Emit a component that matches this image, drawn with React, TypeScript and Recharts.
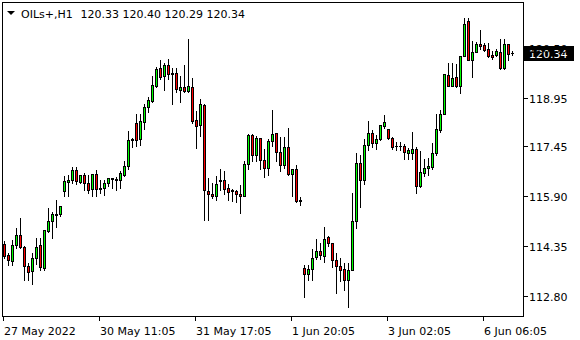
import React from 'react';
import { ComposedChart, Bar, XAxis, YAxis, ReferenceLine } from 'recharts';

const opens = [114.41,114.07,113.89,114.39,114.71,114.34,113.75,113.58,113.99,114.38,113.67,114.82,115.13,115.32,115.35,116.06,116.34,116.40,116.72,116.34,116.57,116.32,116.12,116.60,116.17,116.15,116.31,116.43,116.41,116.41,116.55,116.83,117.65,118.18,117.67,118.20,118.67,118.85,119.32,119.86,119.62,119.95,119.72,119.72,119.19,119.29,119.15,119.29,118.25,118.10,118.74,116.07,115.98,115.91,116.37,116.39,116.16,116.09,116.06,115.98,115.92,116.91,117.79,117.17,117.71,117.03,116.78,117.62,117.87,117.28,116.86,117.43,116.59,116.75,115.78,113.69,113.50,113.66,114.03,114.22,114.05,114.63,114.46,113.92,113.74,113.66,113.30,113.61,115.14,116.92,116.40,117.49,117.87,117.54,117.66,118.07,117.97,117.71,117.46,117.46,117.47,117.24,117.25,117.38,116.21,116.63,116.78,116.81,117.25,117.96,118.46,119.66,119.33,119.58,119.31,120.24,121.34,120.11,120.37,120.63,120.57,120.45,120.29,120.28,120.38,119.87,120.63,120.33];
const highs = [114.51,114.15,114.56,114.91,115.24,114.35,113.84,114.15,114.62,114.62,114.86,115.55,115.42,115.80,115.61,116.54,116.57,116.81,116.80,116.57,116.61,116.57,116.60,116.70,116.40,116.42,116.46,116.47,116.49,116.67,116.98,117.91,117.70,118.46,118.46,118.77,118.99,119.62,119.90,120.13,120.03,120.14,119.86,119.88,119.64,119.95,120.76,119.57,118.53,118.90,118.76,116.48,116.30,116.54,116.74,116.69,116.29,116.13,116.08,116.25,116.98,117.82,117.83,117.76,117.71,117.37,117.66,118.56,117.87,117.75,117.74,118.02,116.75,116.88,115.88,113.77,113.77,114.28,114.58,114.46,114.94,114.67,114.46,114.15,114.00,113.84,113.82,116.00,117.23,117.19,117.66,118.22,117.95,117.80,118.11,118.43,117.98,117.74,117.59,117.58,117.52,117.40,117.88,117.42,117.30,117.06,117.10,117.54,118.46,118.56,119.70,120.03,120.03,120.00,120.25,121.43,121.43,120.70,120.68,121.06,120.65,120.65,120.39,120.47,120.76,120.76,120.63,120.40];
const lows = [114.00,113.77,113.77,114.29,114.31,113.32,113.32,113.19,113.81,113.61,113.62,114.79,114.61,114.96,115.28,115.90,115.90,116.31,116.27,116.30,116.09,116.01,115.90,115.90,115.99,115.93,116.21,116.16,116.09,116.17,116.53,116.73,117.42,117.45,117.48,117.97,118.52,118.81,119.28,119.54,119.19,119.54,118.76,119.14,118.81,119.12,119.13,118.18,117.40,117.76,115.17,115.17,115.85,115.80,116.08,115.96,115.78,115.75,115.72,115.39,115.90,116.74,116.99,117.00,116.73,116.49,116.55,117.45,116.99,116.68,116.78,116.55,115.90,115.72,115.62,112.78,113.32,113.32,113.97,113.97,113.86,114.36,113.71,112.91,113.27,112.99,112.48,113.61,114.93,115.57,116.27,117.33,117.43,117.35,117.64,118.02,117.68,117.35,117.34,117.34,117.05,117.07,117.05,116.00,116.19,116.52,116.55,116.76,117.19,117.88,118.45,119.31,119.31,119.29,119.09,120.23,120.11,119.58,120.36,120.47,120.39,120.22,120.16,120.24,119.85,119.85,120.11,120.29];
const closes = [114.05,113.93,114.40,114.71,114.33,113.74,113.55,114.00,114.34,113.70,114.85,115.13,115.34,115.36,115.61,116.36,116.42,116.72,116.37,116.57,116.32,116.09,116.60,116.13,116.12,116.32,116.46,116.47,116.45,116.61,116.84,117.65,117.66,117.65,118.24,118.68,118.87,119.36,119.85,119.59,119.95,119.69,119.69,119.21,119.29,119.17,119.33,118.23,118.07,118.76,116.10,115.98,115.90,116.27,116.42,116.14,116.03,116.06,115.98,115.90,116.91,117.81,117.18,117.71,117.03,116.78,117.62,117.84,117.28,116.86,117.43,116.58,116.75,115.75,115.77,113.50,113.66,114.00,114.22,114.07,114.58,114.46,113.92,113.74,113.63,113.30,113.63,115.15,116.92,116.41,117.50,117.87,117.54,117.68,118.11,118.21,117.71,117.43,117.45,117.47,117.28,117.33,117.35,116.21,116.66,116.78,116.83,117.25,117.97,118.46,119.69,119.33,119.55,119.30,120.25,121.22,120.11,120.37,120.62,120.55,120.42,120.24,120.22,120.41,119.87,120.63,120.30,120.34];

const tickLabels = ['27 May 2022', '30 May 11:05', '31 May 17:05', '1 Jun 20:05', '3 Jun 02:05', '6 Jun 06:05'];
const tickStep = 24;
const priceTicks = [112.8, 114.35, 115.9, 117.45, 118.95, 120.5];
const priceDomain = [112.194, 121.916];
const symbolLabel = 'OILs+,H1';
const ohlcLabel = '120.33 120.40 120.29 120.34';
const lastPrice = 120.34;

const FONT = 'DejaVu Sans';
const BULL = '#00ff00';
const BEAR = '#ff0000';

const data = opens.map((o, i) => ({
  i,
  o,
  h: highs[i],
  l: lows[i],
  c: closes[i],
  range: [lows[i], highs[i]],
}));

const snap = (v: number) => Math.floor(v) + 0.5;

const Candle = (props: any) => {
  const { x, y, width, height, payload } = props;
  if (!payload || x == null || y == null) return null;
  const { o, h, l, c } = payload;
  const top = Math.min(y, y + height);
  const bot = Math.max(y, y + height);
  const span = h - l;
  const py = (p: number) => (span > 0 ? top + ((h - p) / span) * (bot - top) : top);
  const cx = Math.round(x + width / 2 - 0.5) + 0.5;
  const yH = snap(py(h));
  const yL = snap(py(l));
  const yT = snap(py(Math.max(o, c)));
  const yB = snap(py(Math.min(o, c)));
  const up = c >= o;
  return (
    <g>
      <line x1={cx} x2={cx} y1={yH - 0.5} y2={yL + 0.5} stroke="#000" strokeWidth={1} />
      {yB - yT >= 1 ? (
        <rect x={cx - 1} y={yT} width={2} height={yB - yT} fill={up ? BULL : BEAR} stroke="#000" strokeWidth={1} />
      ) : (
        <line x1={cx - 1.5} x2={cx + 1.5} y1={yT} y2={yT} stroke="#000" strokeWidth={1} />
      )}
    </g>
  );
};

const XTick = (props: any) => {
  const { x, y, payload } = props;
  const idx = Math.round(payload.value / tickStep);
  const label = tickLabels[idx];
  if (label == null) return null;
  const tx = Math.round(x - 0.5) + 0.5;
  return (
    <g>
      <line x1={tx} x2={tx} y1={y + 0.5} y2={y + 4.5} stroke="#000" strokeWidth={1} />
      <text x={tx + 0.5} y={Math.round(y) + 17.5} fontFamily={FONT} fontSize={11} fill="#000" textAnchor="start">
        {label}
      </text>
    </g>
  );
};

const YTick = (props: any) => {
  const { x, y, payload } = props;
  const ty = snap(y);
  return (
    <g>
      <line x1={x + 0.5} x2={x + 4.5} y1={ty} y2={ty} stroke="#000" strokeWidth={1} />
      <text x={x + 5.5} y={Math.floor(y) + 5} fontFamily={FONT} fontSize={11} fill="#000" textAnchor="start">
        {Number(payload.value).toFixed(2)}
      </text>
    </g>
  );
};

const PriceBox = (props: any) => {
  const vb = props.viewBox || {};
  const right = (vb.x || 0) + (vb.width || 0);
  const ly = vb.y || 0;
  const top = Math.round(ly) - 7;
  return (
    <g>
      <rect x={right + 0.5} y={top} width={50} height={15} fill="#000" />
      <text x={right + 5.5} y={Math.round(ly) + 5} fontFamily={FONT} fontSize={11} fill="#fff" textAnchor="start">
        {lastPrice.toFixed(2)}
      </text>
    </g>
  );
};

export default function App() {
  return (
    <div style={{ position: 'absolute', left: 0, top: 0, width: 580, height: 340, background: '#fff', overflow: 'hidden' }}>
      <ComposedChart
        width={580}
        height={340}
        data={data}
        margin={{ top: 2.5, right: 0.5, bottom: 3.5, left: 1.5 }}
      >
        <XAxis
          dataKey="i"
          type="category"
          interval={tickStep - 1}
          padding={{ left: 0, right: 10 }}
          axisLine={false}
          tickLine={false}
          tickSize={0}
          tickMargin={0}
          height={20}
          tick={<XTick />}
        />
        <YAxis
          orientation="right"
          type="number"
          domain={priceDomain}
          allowDataOverflow
          ticks={priceTicks}
          interval={0}
          axisLine={false}
          tickLine={false}
          tickSize={0}
          tickMargin={0}
          width={56}
          tick={<YTick />}
        />
        <Bar dataKey="range" barSize={3} isAnimationActive={false} shape={(p: any) => <Candle {...p} />} />
        <ReferenceLine y={lastPrice} stroke="none" ifOverflow="visible" label={(p: any) => <PriceBox {...p} />} />
      </ComposedChart>
      <div
        style={{
          position: 'absolute',
          left: 2,
          top: 2,
          width: 522,
          height: 315,
          border: '1px solid #000',
          boxSizing: 'border-box',
          pointerEvents: 'none',
        }}
      />
      <svg width={580} height={24} style={{ position: 'absolute', left: 0, top: 0, pointerEvents: 'none' }}>
        <polygon points="7,11 15,11 11,15" fill="#000" />
        <text x={21} y={18} fontFamily={FONT} fontSize={11} fill="#000">{symbolLabel}</text>
        <text x={80.5} y={18} fontFamily={FONT} fontSize={11} fill="#000">{ohlcLabel}</text>
      </svg>
    </div>
  );
}
